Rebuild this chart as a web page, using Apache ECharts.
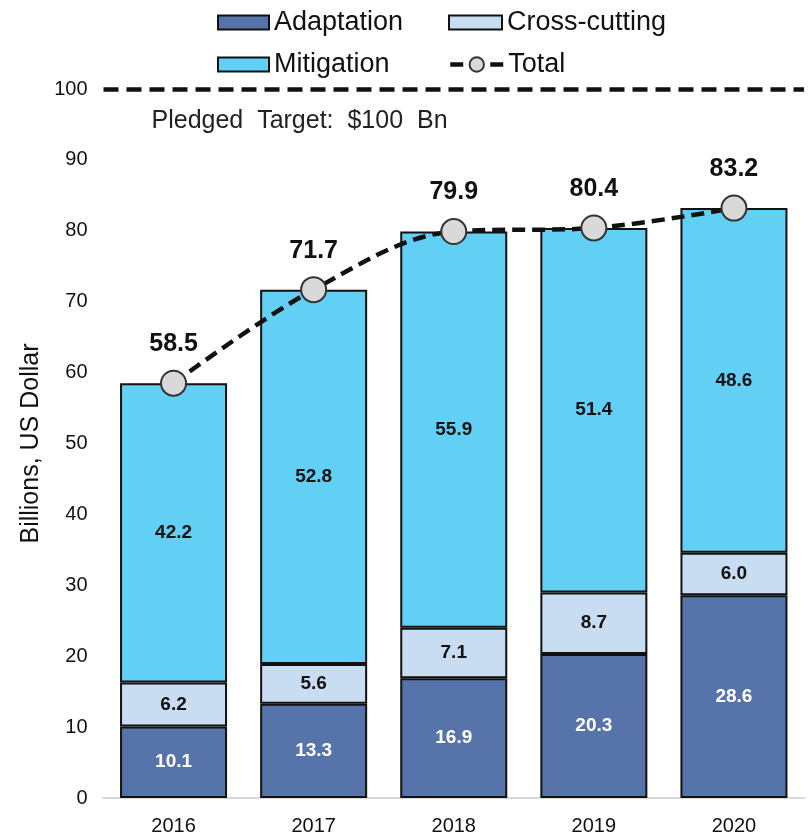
<!DOCTYPE html>
<html>
<head>
<meta charset="utf-8">
<script src="https://cdn.jsdelivr.net/npm/echarts@6/dist/echarts.min.js"></script>
<style>
  html, body { margin: 0; padding: 0; background: #fff; }
  #chart { width: 808px; height: 836px; }
</style>
</head>
<body>
<div id="chart"></div>
<script>
// Climate finance flows, billions of US dollars
const years = ['2016', '2017', '2018', '2019', '2020'];
const adaptation = [10.1, 13.3, 16.9, 20.3, 28.6];
const crossCutting = [6.2, 5.6, 7.1, 8.7, 6.0];
const mitigation = [42.2, 52.8, 55.9, 51.4, 48.6];
const total = [58.5, 71.7, 79.9, 80.4, 83.2];
const pledgedTarget = 100;
const yTicks = { min: 0, max: 100, interval: 10 };

const FONT = 'Arial, "Liberation Sans", sans-serif';

const chart = echarts.init(document.getElementById('chart'), null, { renderer: 'canvas' });

function barSeries(name, data, color, labelColor) {
  return {
    name: name,
    type: 'bar',
    stack: 'finance',
    data: data,
    barWidth: 107,
    itemStyle: { color: color, borderColor: '#111', borderWidth: 2 },
    label: {
      show: true,
      position: 'inside',
      color: labelColor,
      fontFamily: FONT,
      fontWeight: 'bold',
      fontSize: 19,
      formatter: p => p.value.toFixed(1)
    },
    emphasis: { disabled: true }
  };
}

const legendText = { fontSize: 27, lineHeight: 27, color: '#111', fontFamily: FONT };

const option = {
  animation: false,
  backgroundColor: '#fff',
  textStyle: { fontFamily: FONT },
  legend: [
    {
      orient: 'vertical',
      left: 212,
      top: 4,
      itemWidth: 51,
      itemHeight: 14,
      itemGap: 15,
      icon: 'rect',
      data: ['Adaptation', 'Mitigation'],
      textStyle: legendText
    },
    {
      left: 443,
      top: 4,
      itemWidth: 53,
      itemHeight: 14,
      icon: 'rect',
      data: ['Cross-cutting'],
      textStyle: legendText
    },
    {
      left: 443,
      top: 46,
      itemWidth: 53,
      itemHeight: 18,
      data: ['Total'],
      lineStyle: { width: 4.5 },
      textStyle: legendText
    }
  ],
  grid: { left: 103.5, right: 4, top: 89, bottom: 38 },
  xAxis: {
    type: 'category',
    data: years,
    axisLine: { lineStyle: { color: '#d9d9d9', width: 2 } },
    axisTick: { show: false },
    axisLabel: { color: '#111', fontSize: 20, fontFamily: FONT, margin: 18 }
  },
  yAxis: {
    type: 'value',
    min: yTicks.min,
    max: yTicks.max,
    interval: yTicks.interval,
    name: 'Billions, US Dollar',
    nameLocation: 'middle',
    nameGap: 54,
    nameTextStyle: { fontSize: 25, color: '#111', fontFamily: FONT },
    axisLine: { show: false },
    axisTick: { show: false },
    splitLine: { show: false },
    axisLabel: { color: '#111', fontSize: 20, fontFamily: FONT, margin: 16 }
  },
  series: [
    barSeries('Adaptation', adaptation, '#5674a9', '#ffffff'),
    barSeries('Cross-cutting', crossCutting, '#c8ddf1', '#111111'),
    barSeries('Mitigation', mitigation, '#62cff4', '#111111'),
    {
      name: 'Total',
      type: 'line',
      data: total,
      smooth: 0.35,
      symbol: 'circle',
      symbolSize: 25,
      z: 5,
      lineStyle: { color: '#111', width: 4.5, type: [13, 7] },
      itemStyle: { color: '#d9d9d9', borderColor: '#333', borderWidth: 2 },
      label: {
        show: true,
        position: 'top',
        distance: 13,
        color: '#111',
        fontFamily: FONT,
        fontWeight: 'bold',
        fontSize: 25,
        formatter: p => p.value.toFixed(1)
      },
      emphasis: { disabled: true },
      markLine: {
        silent: true,
        symbol: 'none',
        lineStyle: { color: '#111', width: 4.5, type: [15, 8] },
        label: {
          show: true,
          position: 'insideStartBottom',
          distance: [48, 20],
          formatter: 'Pledged  Target:  $100  Bn',
          color: '#222',
          fontFamily: FONT,
          fontSize: 25
        },
        data: [{ yAxis: pledgedTarget }]
      }
    }
  ]
};

chart.setOption(option);
</script>
</body>
</html>
